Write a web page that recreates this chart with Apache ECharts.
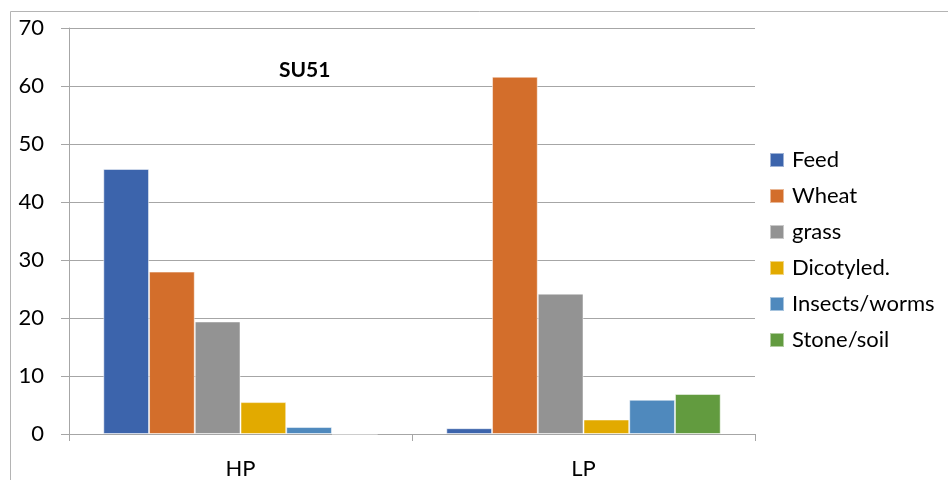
<!DOCTYPE html>
<html>
<head>
<meta charset="utf-8">
<script src="https://cdn.jsdelivr.net/npm/echarts@6/dist/echarts.min.js"></script>
<style>
  html, body { margin: 0; padding: 0; background: #fff; }
  #chart { width: 948px; height: 480px; }
</style>
</head>
<body>
<div id="chart"></div>
<script>
const categories = ['HP', 'LP'];
const seriesNames = ['Feed', 'Wheat', 'grass', 'Dicotyled.', 'Insects/worms', 'Stone/soil'];
const feed = [45.7, 1.0];
const wheat = [28.0, 61.6];
const grass = [19.4, 24.2];
const dicotyled = [5.5, 2.5];
const insects = [1.2, 5.9];
const stoneSoil = [0, 6.9];
const colors = ['#3c64ac', '#d36e2b', '#939393', '#e2aa00', '#4f89bd', '#629b3f'];

const values = [feed, wheat, grass, dicotyled, insects, stoneSoil];
const font = 'Lato, "Open Sans", sans-serif';
const axisGrey = '#a6a6a6';

const chart = echarts.init(document.getElementById('chart'));

chart.setOption({
  animation: false,
  backgroundColor: '#fff',
  title: {
    text: 'SU51',
    left: 274,
    top: 55,
    textStyle: { fontFamily: font, fontSize: 21, fontWeight: 'bold', color: '#000' },
  },
  legend: {
    orient: 'vertical',
    left: 764,
    top: 144,
    itemWidth: 14,
    itemHeight: 14,
    itemGap: 14,
    icon: 'rect',
    textStyle: { fontFamily: font, fontSize: 22, color: '#000', padding: [0, 0, 0, 3] },
    data: seriesNames,
  },
  grid: { left: 69, right: 193, top: 28, bottom: 45, containLabel: false },
  xAxis: {
    type: 'category',
    data: categories,
    axisLine: { lineStyle: { color: axisGrey, width: 1 } },
    axisTick: { show: true, length: 7, lineStyle: { color: axisGrey } },
    axisLabel: { fontFamily: font, fontSize: 22, color: '#000', margin: 24 },
  },
  yAxis: {
    type: 'value',
    min: 0,
    max: 70,
    interval: 10,
    axisLine: { show: true, lineStyle: { color: axisGrey, width: 1 } },
    axisTick: { show: true, inside: false, length: 8, lineStyle: { color: axisGrey } },
    splitLine: { lineStyle: { color: axisGrey, width: 1 } },
    axisLabel: { fontFamily: font, fontSize: 22, color: '#000', margin: 25 },
  },
  graphic: [
    {
      type: 'rect',
      shape: { x: 10.5, y: 11.5, width: 1000, height: 1000 },
      style: { fill: 'none', stroke: '#b4b4b4', lineWidth: 1 },
      silent: true,
      z: 100,
    },
  ],
  series: seriesNames.map((name, i) => ({
    name,
    type: 'bar',
    data: values[i],
    barGap: '0%',
    barCategoryGap: '20%',
    itemStyle: { color: colors[i], borderColor: 'rgba(255,255,255,0.5)', borderWidth: 1 },
  })),
});
</script>
</body>
</html>
